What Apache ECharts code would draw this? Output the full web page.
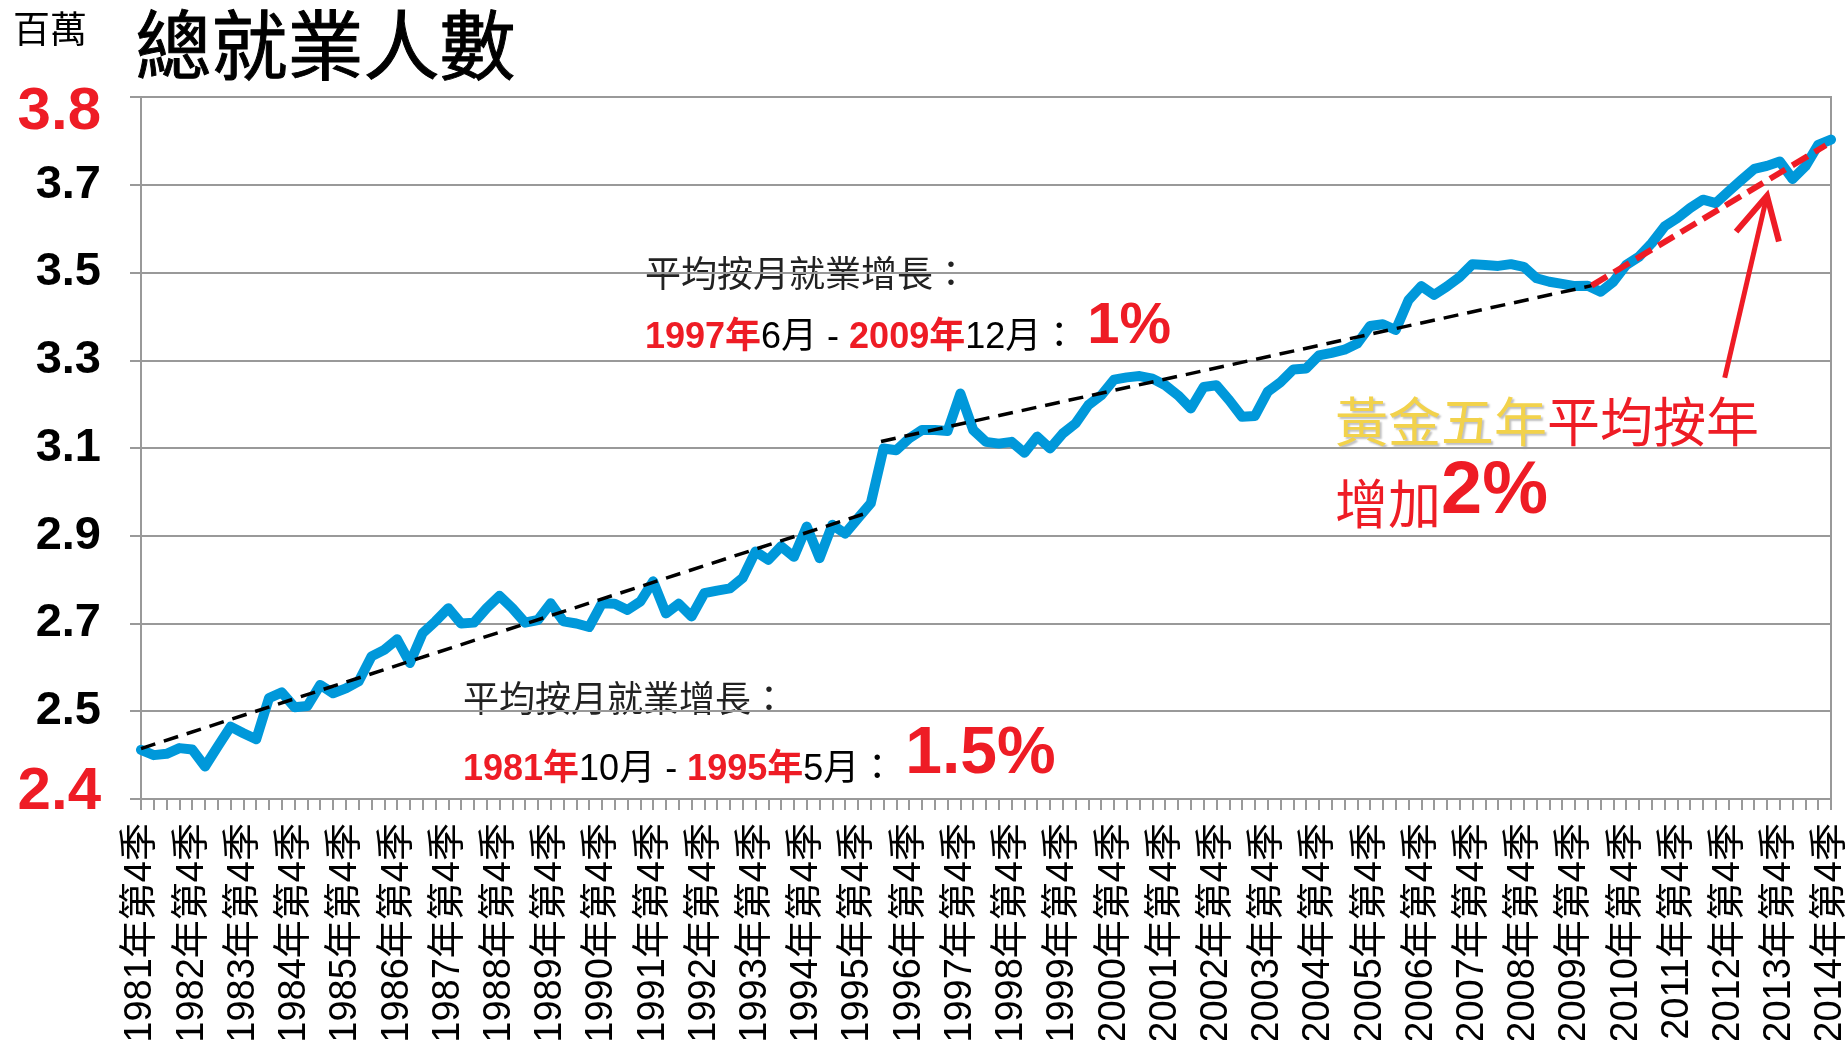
<!DOCTYPE html>
<html>
<head>
<meta charset="utf-8">
<script src="https://cdn.jsdelivr.net/npm/echarts@6/dist/echarts.min.js"></script>
<style>
  html, body { margin: 0; padding: 0; background: #fff; }
  #chart { width: 1847px; height: 1040px; }
</style>
</head>
<body>
<div id="chart"></div>
<script>
// 每季總就業人數 (百萬), 1981年第4季 - 2014年第4季
const employment = [
    2.412, 2.400, 2.403, 2.416, 2.413, 2.374, 2.420, 2.465, 2.450, 2.436,
    2.530, 2.543, 2.509, 2.512, 2.560, 2.541, 2.552, 2.568, 2.625, 2.640,
    2.664, 2.610, 2.678, 2.705, 2.735, 2.700, 2.702, 2.735, 2.763, 2.735,
    2.702, 2.708, 2.746, 2.705, 2.700, 2.692, 2.746, 2.745, 2.731, 2.750,
    2.796, 2.723, 2.745, 2.716, 2.769,
    2.775, 2.780, 2.804, 2.864, 2.845, 2.876, 2.852, 2.921, 2.849, 2.925,
    2.905, 2.940, 2.974, 3.099, 3.095, 3.122, 3.141, 3.141, 3.139, 3.224,
    3.141, 3.114, 3.110, 3.114, 3.089, 3.126, 3.099, 3.133, 3.156, 3.198,
    3.220, 3.256, 3.261, 3.264, 3.258, 3.243, 3.220, 3.190, 3.239, 3.243,
    3.209, 3.171, 3.173, 3.228, 3.250,
    3.279, 3.281, 3.311, 3.317, 3.324, 3.338, 3.378, 3.382, 3.369, 3.437,
    3.469, 3.449, 3.468, 3.490, 3.519, 3.517, 3.515, 3.519, 3.513, 3.487,
    3.479, 3.474, 3.469, 3.470, 3.456, 3.479, 3.517, 3.536, 3.567, 3.605,
    3.624, 3.647, 3.666, 3.658, 3.685, 3.711, 3.736, 3.743, 3.753, 3.713,
    3.742, 3.791, 3.803
];

// 季度分類
const quarters = [];
for (let y = 1981; y <= 2014; y++) {
    for (let q = 1; q <= 4; q++) {
        if (y === 1981 && q < 4) continue;
        quarters.push(y + '年第' + q + '季');
    }
}

// y 軸刻度文字 (由下至上)
const yLabels = ['2.4', '2.5', '2.7', '2.9', '3.1', '3.3', '3.5', '3.7', '3.8'];

// 趨勢線 [季度序號, 百萬]
const trend1 = [[0, 2.415], [56.5, 2.95]];
const trend2 = [[57.8, 3.115], [113.3, 3.47]];
const trend3 = [[113.3, 3.47], [131.6, 3.79]];
const arrowLine = [[123.7, 3.26], [127.0, 3.675]];

const RED = '#EE1C25';
const GOLD = '#F2D24B';
const LATIN = '"Liberation Sans", Arial, "Noto Sans CJK TC", sans-serif';
const CJK = '"Noto Sans CJK TC", "Liberation Sans", sans-serif';

var myChart = echarts.init(document.getElementById('chart'));

let option = {
    backgroundColor: '#fff',
    animation: false,
    grid: {
        left: 141, right: 16, top: 97, bottom: 241,
        outerBoundsMode: 'none',
        containLabel: false,
        show: true, borderColor: '#999', borderWidth: 2
    },
    xAxis: [
        {
            type: 'category',
            data: quarters,
            boundaryGap: false,
            axisLine: { lineStyle: { color: '#999', width: 2 } },
            axisTick: { show: true, interval: 0, length: 11, lineStyle: { color: '#999', width: 2 } },
            axisLabel: {
                interval: 3,
                rotate: 90,
                margin: 24,
                color: '#000',
                fontSize: 38,
                fontFamily: LATIN
            },
            splitLine: { show: false }
        },
        {
            type: 'value',
            min: 0,
            max: quarters.length - 1,
            show: false
        }
    ],
    yAxis: {
        type: 'value',
        min: 2.3,
        max: 3.9,
        interval: 0.2,
        axisLine: { show: true, lineStyle: { color: '#999', width: 2 } },
        axisTick: { show: true, length: 11, lineStyle: { color: '#999', width: 2 } },
        splitLine: { lineStyle: { color: '#999', width: 2 } },
        axisLabel: {
            margin: 40,
            formatter: function (v) {
                let idx = Math.round((v - 2.3) / 0.2);
                let txt = yLabels[idx];
                if (idx === 0) return '{rb|' + txt + '}';
                if (idx === yLabels.length - 1) return '{rt|' + txt + '}';
                return '{n|' + txt + '}';
            },
            rich: {
                n: { fontSize: 47, fontWeight: 'bold', color: '#000', fontFamily: LATIN },
                rt: { fontSize: 60, fontWeight: 'bold', color: RED, fontFamily: LATIN, padding: [30, 0, 0, 0] },
                rb: { fontSize: 60, fontWeight: 'bold', color: RED, fontFamily: LATIN, padding: [0, 0, 14, 0] }
            }
        }
    },
    series: [
        {
            name: '總就業人數',
            type: 'line',
            data: employment,
            showSymbol: false,
            lineStyle: { color: '#0098DA', width: 10, cap: 'round', join: 'round' },
            z: 2
        },
        {
            type: 'line', xAxisIndex: 1, data: trend1, showSymbol: false,
            lineStyle: { color: '#000', width: 3.5, type: [15, 9] }, z: 3
        },
        {
            type: 'line', xAxisIndex: 1, data: trend2, showSymbol: false,
            lineStyle: { color: '#000', width: 3.5, type: [15, 9] }, z: 3
        },
        {
            type: 'line', xAxisIndex: 1, data: trend3, showSymbol: false,
            lineStyle: { color: RED, width: 6, type: [18, 8] }, z: 3
        },
        {
            type: 'line', xAxisIndex: 1, data: arrowLine, showSymbol: false,
            lineStyle: { color: RED, width: 5 }, z: 4
        }
    ],
    graphic: [
        {
            type: 'text', left: 13, top: 10,
            style: { text: '百萬', fontSize: 37, fill: '#000', fontFamily: CJK }
        },
        {
            type: 'text', left: 135, top: 7,
            style: { text: '總就業人數', fontSize: 76, fill: '#000', fontFamily: CJK, stroke: '#000', lineWidth: 1 }
        },
        {
            type: 'text', x: 645, y: 291,
            style: {
                text: '平均按月就業增長：', fontSize: 36, fill: '#222', fontFamily: CJK,
                verticalAlign: 'bottom'
            }
        },
        {
            type: 'text', x: 645, y: 356,
            style: {
                text: '{r|1997年}{k|6月 - }{r|2009年}{k|12月：}{big|1%}',
                verticalAlign: 'bottom',
                rich: {
                    r: { fontSize: 36, fontWeight: 'bold', fill: RED, fontFamily: LATIN, verticalAlign: 'bottom' },
                    k: { fontSize: 36, fill: '#000', fontFamily: LATIN, verticalAlign: 'bottom' },
                    big: { fontSize: 58, fontWeight: 'bold', fill: RED, fontFamily: LATIN, verticalAlign: 'bottom', padding: [0, 0, 0, 10] }
                }
            }
        },
        {
            type: 'text', x: 463, y: 716,
            style: {
                text: '平均按月就業增長：', fontSize: 36, fill: '#222', fontFamily: CJK,
                verticalAlign: 'bottom'
            }
        },
        {
            type: 'text', x: 463, y: 788,
            style: {
                text: '{r|1981年}{k|10月 - }{r|1995年}{k|5月：}{big|1.5%}',
                verticalAlign: 'bottom',
                rich: {
                    r: { fontSize: 36, fontWeight: 'bold', fill: RED, fontFamily: LATIN, verticalAlign: 'bottom' },
                    k: { fontSize: 36, fill: '#000', fontFamily: LATIN, verticalAlign: 'bottom' },
                    big: { fontSize: 66, fontWeight: 'bold', fill: RED, fontFamily: LATIN, verticalAlign: 'bottom', padding: [0, 0, 0, 10] }
                }
            }
        },
        {
            type: 'text', x: 1335, y: 448,
            style: {
                text: '{g|黃金五年}{r|平均按年}',
                verticalAlign: 'bottom',
                rich: {
                    g: {
                        fontSize: 53, fill: GOLD, fontFamily: CJK, verticalAlign: 'bottom',
                        textShadowColor: 'rgba(0,0,0,0.25)', textShadowOffsetX: 2, textShadowOffsetY: 2, textShadowBlur: 2
                    },
                    r: { fontSize: 53, fill: RED, fontFamily: CJK, verticalAlign: 'bottom' }
                }
            }
        },
        {
            type: 'text', x: 1335, y: 530,
            style: {
                text: '{r|增加}{big|2%}',
                verticalAlign: 'bottom',
                rich: {
                    r: { fontSize: 53, fill: RED, fontFamily: CJK, verticalAlign: 'bottom' },
                    big: { fontSize: 74, fontWeight: 'bold', fill: RED, fontFamily: LATIN, verticalAlign: 'bottom' }
                }
            }
        }
    ]
};

myChart.setOption(option);

// 箭頭 (開口形)
function drawArrowHead() {
    const tail = myChart.convertToPixel({ xAxisIndex: 1, yAxisIndex: 0 }, arrowLine[0]);
    const tip = myChart.convertToPixel({ xAxisIndex: 1, yAxisIndex: 0 }, arrowLine[1]);
    const dx = tip[0] - tail[0], dy = tip[1] - tail[1];
    const len = Math.sqrt(dx * dx + dy * dy);
    const ux = dx / len, uy = dy / len;
    const headLen = 42, headHalf = 22;
    const bx = tip[0] - ux * headLen, by = tip[1] - uy * headLen;
    const p1 = [bx - uy * headHalf, by + ux * headHalf];
    const p2 = [bx + uy * headHalf, by - ux * headHalf];
    myChart.setOption({
        graphic: option.graphic.concat([{
            type: 'polyline',
            shape: { points: [p1, tip, p2] },
            style: { stroke: RED, lineWidth: 6, fill: null, lineJoin: 'miter' },
            z: 10
        }])
    });
}
drawArrowHead();
</script>
</body>
</html>
